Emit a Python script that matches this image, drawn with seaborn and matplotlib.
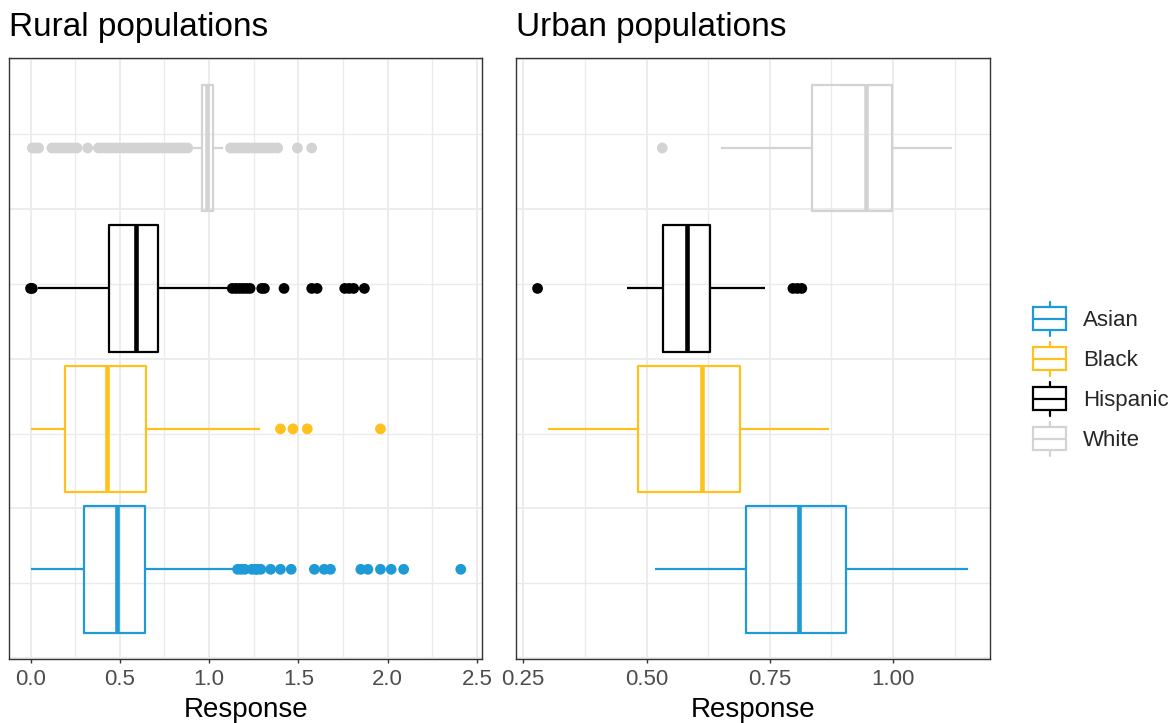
import numpy as np
import pandas as pd
import matplotlib
matplotlib.use("Agg")
import matplotlib.pyplot as plt
import seaborn as sns
from matplotlib.legend_handler import HandlerBase
from matplotlib.patches import Rectangle
from matplotlib.lines import Line2D
from matplotlib.ticker import MultipleLocator

# ---------------- data ----------------
groups = ["Asian", "Black", "Hispanic", "White"]
palette = ["#1E9AD6", "#FFC11E", "#000000", "#D3D3D3"]
panel_titles = ["Rural populations", "Urban populations"]

# five-number summaries: lower whisker, Q1, median, Q3, upper whisker
rural_whislo = [0.000, 0.000, 0.040, 0.906]
rural_q1 = [0.299, 0.192, 0.439, 0.962]
rural_median = [0.486, 0.430, 0.589, 0.990]
rural_q3 = [0.641, 0.649, 0.714, 1.022]
rural_whishi = [1.140, 1.285, 1.100, 1.080]

urban_whislo = [0.518, 0.300, 0.461, 0.651]
urban_q1 = [0.702, 0.483, 0.533, 0.836]
urban_median = [0.809, 0.613, 0.582, 0.946]
urban_q3 = [0.904, 0.690, 0.629, 0.998]
urban_whishi = [1.153, 0.870, 0.741, 1.119]

# outliers
rural_out_asian = [1.16, 1.18, 1.20, 1.24, 1.26, 1.27, 1.29, 1.345, 1.40, 1.46,
                   1.59, 1.645, 1.68, 1.85, 1.89, 1.96, 2.02, 2.09, 2.41]
rural_out_black = [1.40, 1.47, 1.55, 1.96]
rural_out_hispanic = [0.00, 0.01, 1.13, 1.15, 1.17, 1.19, 1.21, 1.23, 1.295, 1.31,
                      1.42, 1.575, 1.605, 1.76, 1.785, 1.81, 1.87]
rural_out_white = [0.01, 0.025, 0.045, 0.12, 0.14, 0.16, 0.18, 0.20, 0.22, 0.24, 0.26,
                   0.32, 0.38, 0.40, 0.42, 0.44, 0.46, 0.48, 0.50, 0.52, 0.54, 0.56,
                   0.58, 0.60, 0.62, 0.64, 0.66, 0.68, 0.70, 0.72, 0.74, 0.76, 0.78,
                   0.80, 0.82, 0.84, 0.86, 0.88,
                   1.12, 1.14, 1.16, 1.18, 1.20, 1.22, 1.24, 1.26, 1.28, 1.30, 1.32,
                   1.34, 1.36, 1.385, 1.495, 1.575]

urban_out_asian = []
urban_out_black = []
urban_out_hispanic = [0.279, 0.797, 0.806, 0.815]
urban_out_white = [0.532]

# ---------------- styling ----------------
sns.set_theme(style="white")
plt.rcParams["font.family"] = ["Liberation Sans", "DejaVu Sans"]

GRID = "#EBEBEB"
BORDER = "#333333"
TICKTXT = "#4D4D4D"
BOX_LW = 1.6
MED_LW = 3.3
DODGE_WIDTH = 0.75


def summary_frame(lo, q1, med, q3, hi):
    rows = []
    for g, a, b, c, d, e in zip(groups, lo, q1, med, q3, hi):
        for v in (a, b, c, d, e):
            rows.append({"race": g, "Response": v})
    return pd.DataFrame(rows)


def outlier_frame(lists):
    slot = DODGE_WIDTH / len(groups)
    offsets = np.linspace(-DODGE_WIDTH / 2 + slot / 2, DODGE_WIDTH / 2 - slot / 2, len(groups))
    rows = []
    for i, (g, vals) in enumerate(zip(groups, lists)):
        for v in vals:
            rows.append({"race": g, "Response": v, "pos": offsets[i]})
    return pd.DataFrame(rows, columns=["race", "Response", "pos"])


panels = [
    dict(summary=summary_frame(rural_whislo, rural_q1, rural_median, rural_q3, rural_whishi),
         outliers=outlier_frame([rural_out_asian, rural_out_black, rural_out_hispanic, rural_out_white]),
         major=0.5, minor=0.25, fmt="{:.1f}"),
    dict(summary=summary_frame(urban_whislo, urban_q1, urban_median, urban_q3, urban_whishi),
         outliers=outlier_frame([urban_out_asian, urban_out_black, urban_out_hispanic, urban_out_white]),
         major=0.25, minor=0.125, fmt="{:.2f}"),
]

W, H = 1172, 723
fig = plt.figure(figsize=(W / 100, H / 100), dpi=100)
axes_px = [(9, 482.3), (516, 990)]
top_px, bot_px = 58.3, 659

for p, (l, r), title in zip(panels, axes_px, panel_titles):
    ax = fig.add_axes([l / W, 1 - bot_px / H, (r - l) / W, (bot_px - top_px) / H])
    ax.set_axisbelow(True)
    sns.boxplot(data=p["summary"], x="Response", hue="race", hue_order=groups,
                palette=palette, orient="h", width=DODGE_WIDTH, gap=0.1, fill=False,
                showfliers=False, showcaps=False, saturation=1, linewidth=BOX_LW,
                whis=1.5, legend=False, ax=ax,
                boxprops=dict(linewidth=BOX_LW),
                whiskerprops=dict(linewidth=BOX_LW),
                medianprops=dict(linewidth=MED_LW))
    if len(p["outliers"]):
        sns.scatterplot(data=p["outliers"], x="Response", y="pos", hue="race",
                        hue_order=groups, palette=palette, s=60, linewidth=0,
                        legend=False, ax=ax, zorder=3)

    allvals = np.concatenate([p["summary"]["Response"].values, p["outliers"]["Response"].values])
    lo, hi = allvals.min(), allvals.max()
    pad = (hi - lo) * 0.05
    ax.set_xlim(lo - pad, hi + pad)
    ax.set_ylim(-0.401, 0.401)

    ax.xaxis.set_major_locator(MultipleLocator(p["major"]))
    ax.xaxis.set_minor_locator(MultipleLocator(p["minor"]))
    ax.yaxis.set_major_locator(MultipleLocator(0.2))
    ax.yaxis.set_minor_locator(MultipleLocator(0.1))
    ax.xaxis.set_major_formatter(plt.FuncFormatter(lambda v, _, f=p["fmt"]: f.format(v)))
    ax.grid(True, which="major", color=GRID, linewidth=1.3)
    ax.grid(True, which="minor", color=GRID, linewidth=1.0)
    ax.tick_params(axis="x", which="major", bottom=True, length=3, width=1.0, color=BORDER,
                   labelsize=16, labelcolor=TICKTXT, pad=4.5)
    ax.tick_params(axis="x", which="minor", bottom=False)
    ax.tick_params(axis="y", which="both", left=False, labelleft=False)
    ax.set_ylabel("")
    ax.set_xlabel("Response", fontsize=20, color="black", labelpad=4.5)
    for s in ax.spines.values():
        s.set_visible(True)
        s.set_color(BORDER)
        s.set_linewidth(1.0)
    ax.set_title(title, loc="left", fontsize=24, color="black", pad=16)

    # make the median lines thicker than the box outlines (as in ggplot)
    for line in ax.lines:
        xd = np.asarray(line.get_xdata(), dtype=float)
        yd = np.asarray(line.get_ydata(), dtype=float)
        if len(xd) == 2 and np.isclose(xd[0], xd[1]) and not np.isclose(yd[0], yd[1]):
            line.set_linewidth(MED_LW)
            line.set_solid_capstyle("butt")


class BoxKeyHandler(HandlerBase):
    def create_artists(self, legend, orig_handle, xdescent, ydescent, width, height,
                       fontsize, trans):
        c = orig_handle.get_color()
        x0, y0 = -xdescent, -ydescent
        bh = height * 0.66
        by = y0 + (height - bh) / 2
        cx = x0 + width / 2
        rect = Rectangle((x0, by), width, bh, fill=False, edgecolor=c, lw=BOX_LW, transform=trans)
        mid = Line2D([x0, x0 + width], [y0 + height / 2] * 2, color=c, lw=BOX_LW, transform=trans)
        up = Line2D([cx, cx], [by + bh, y0 + height], color=c, lw=BOX_LW, transform=trans)
        dn = Line2D([cx, cx], [y0, by], color=c, lw=BOX_LW, transform=trans)
        return [rect, mid, up, dn]


handles = [Line2D([], [], color=c) for c in palette]
fig.legend(handles, groups, handler_map={Line2D: BoxKeyHandler()},
           loc="upper left", bbox_to_anchor=(1033 / W, 1 - 301.5 / H),
           frameon=False, fontsize=16, handlelength=1.49, handleheight=1.977,
           handletextpad=0.75, labelspacing=0.27, borderpad=0, borderaxespad=0)

fig.savefig("out.png", dpi=100)
